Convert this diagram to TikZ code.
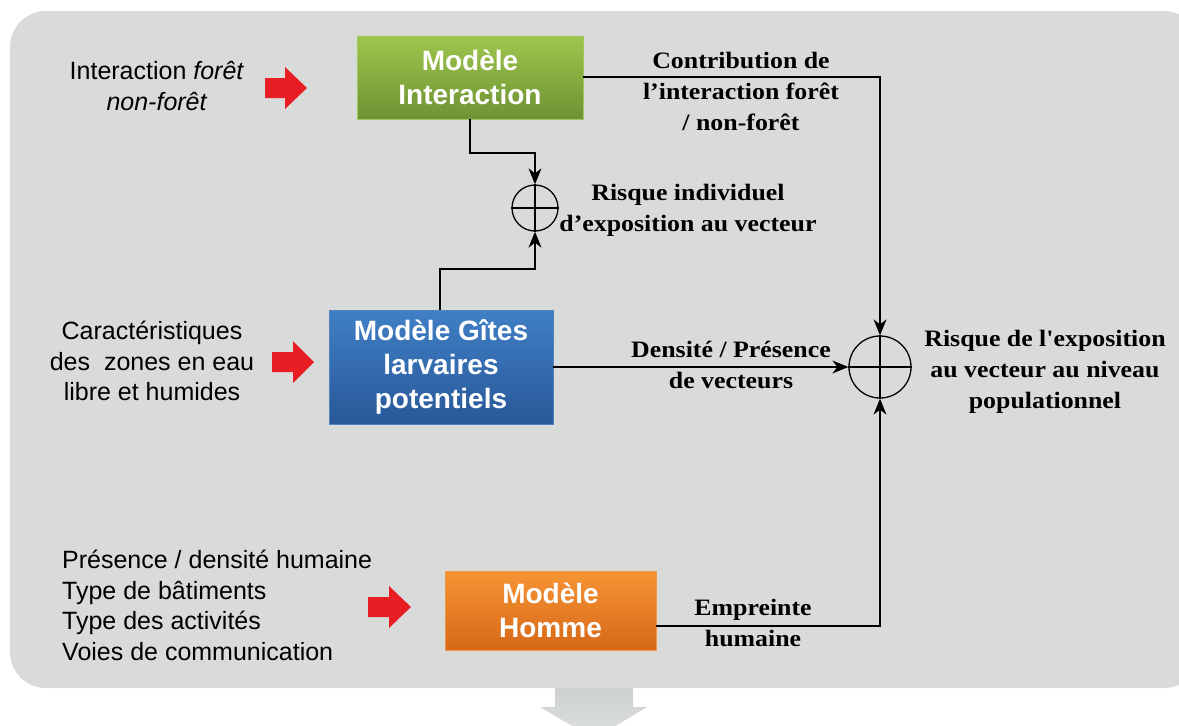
\documentclass[tikz,border=0pt]{standalone}
\usepackage{fontspec}
\setmainfont{Liberation Serif}
\setsansfont{Liberation Sans}
\newfontfamily\lblfont[FakeStretch=1.1]{Liberation Serif}
\usetikzlibrary{arrows.meta}
\definecolor{panel}{RGB}{216,219,218}
\definecolor{redarr}{RGB}{232,30,36}
\definecolor{gtop}{RGB}{158,198,76}
\definecolor{gbot}{RGB}{110,146,52}
\definecolor{gdraw}{RGB}{160,200,90}
\definecolor{btop}{RGB}{64,127,198}
\definecolor{bbot}{RGB}{40,88,152}
\definecolor{bdraw}{RGB}{80,130,190}
\definecolor{otop}{RGB}{246,148,52}
\definecolor{obot}{RGB}{214,104,24}
\definecolor{odraw}{RGB}{240,150,70}
\definecolor{arrtop}{RGB}{206,209,209}
\definecolor{arrbot}{RGB}{222,224,224}
\begin{document}
\begin{tikzpicture}[x=1pt,y=-1pt,
  model/.style={rectangle, inner sep=0pt, align=center, text=white, line width=0.8pt,
    font=\sffamily\bfseries\fontsize{28}{34}\selectfont},
  lbl/.style={align=center, inner sep=0pt, font=\lblfont\bfseries\fontsize{23.5}{31}\selectfont},
  intxt/.style={align=center, inner sep=0pt, font=\sffamily\fontsize{25}{30.5}\selectfont},
  sumnode/.style={circle, draw, line width=1.3pt, inner sep=0pt},
  conn/.style={line width=1.3pt, -{Stealth[length=16pt,width=13pt,inset=5pt]}},
  wire/.style={line width=1.3pt},
  redarrow/.style={fill=redarr, draw=none}]
\useasboundingbox (0,0) rectangle (1179,726);
\fill[panel] (10,11) [rounded corners=36pt] -- (1200,11) -- (1200,688) -- (10,688) -- cycle;
% bottom grey arrow
\shade[top color=arrtop, bottom color=arrbot] (555,688) -- (633,688) -- (633,707) -- (647,707) -- (594,739) -- (540,707) -- (555,707) -- cycle;

% model boxes
\node[model, minimum width=226pt, minimum height=83pt, top color=gtop, bottom color=gbot, draw=gdraw] (inter) at (470,77.5) {Modèle\\Interaction};
\node[model, minimum width=224pt, minimum height=114pt, top color=btop, bottom color=bbot, draw=bdraw] (gites) at (441,367) {Modèle Gîtes\\larvaires\\potentiels};
\node[model, minimum width=211pt, minimum height=79pt, top color=otop, bottom color=obot, draw=odraw] (homme) at (550.5,610.5) {Modèle\\Homme};

% sum nodes
\node[sumnode, minimum size=46pt] (s1) at (535,208) {};
\draw[wire] (s1.north) -- (s1.south) (s1.west) -- (s1.east);
\node[sumnode, minimum size=62pt] (s2) at (880,367) {};
\draw[wire] (s2.north) -- (s2.south) (s2.west) -- (s2.east);

% connectors
\coordinate (c1) at (470,153);
\coordinate (c2) at (440,269);
\draw[conn] (inter.south) -- (c1) -| (s1.north);
\draw[conn] (gites.north -| c2) -- (c2) -| (s1.south);
\draw[conn] (inter.east |- 0,77) -| (s2.north);
\draw[conn] (gites.east) -- (s2.west);
\draw[conn] (homme.east |- 0,626) -| (s2.south);

% labels
\node[lbl] (l1) at (741,91) {Contribution de\\l’interaction forêt\\/ non-forêt};
\node[lbl] (l2) at (688,210.5) {Risque individuel\\d’exposition au vecteur};
\node[lbl] (l3) at (731,365) {Densité / Présence\\de vecteurs};
\node[lbl] (l4) at (1045,372) {Risque de l'exposition\\au vecteur au niveau\\populationnel};
\node[lbl] (l5) at (753,623) {Empreinte\\humaine};

% inputs
\node[intxt] (i1) at (157,86) {Interaction \textit{forêt}\\\textit{non-forêt}};
\node[intxt] (i2) at (152,361) {Caractéristiques\\des\ \ zones en eau\\libre et humides};
\node[intxt, align=left, anchor=west] (i3) at (62,605.5) {Présence / densité humaine\\Type de bâtiments\\Type des activités\\Voies de communication};

% red arrows
\fill[redarrow] (265,78) -- (285,78) -- (285,67) -- (307,88) -- (285,109) -- (285,98) -- (265,98) -- cycle;
\fill[redarrow] (272,352) -- (293,352) -- (293,341) -- (314,362) -- (293,383) -- (293,372) -- (272,372) -- cycle;
\fill[redarrow] (368,597) -- (389,597) -- (389,586) -- (411,607) -- (389,628) -- (389,617) -- (368,617) -- cycle;
\end{tikzpicture}
\end{document}
